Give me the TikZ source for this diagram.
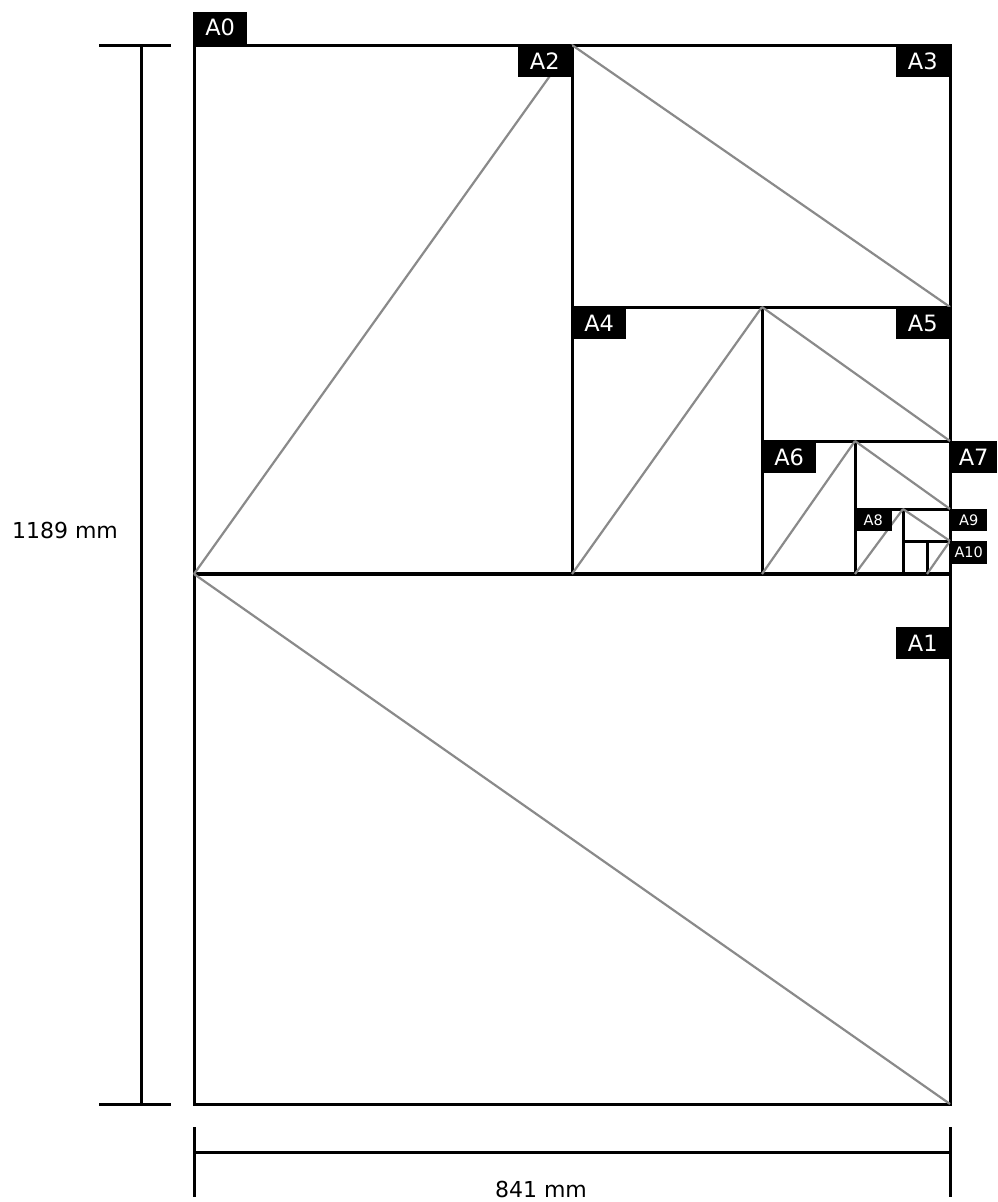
\documentclass[tikz,border=0pt]{standalone}
\usepackage{fontspec}
\setmainfont{DejaVu Sans}
\definecolor{diaggray}{HTML}{8A8A8A}
\begin{document}
\begin{tikzpicture}[x=1pt,y=-1pt,
  frame/.style={line width=3pt, black},
  midline/.style={line width=3.4pt, black},
  diag/.style={line width=2.2pt, diaggray},
  dimline/.style={line width=3pt, black},
  lab/.style={fill=black, text=white, font=\fontsize{22.5pt}{22.5pt}\selectfont, inner sep=0pt, minimum width=54pt, minimum height=32pt},
  smalllab/.style={fill=black, text=white, font=\fontsize{14.5pt}{14.5pt}\selectfont, inner sep=0pt, minimum width=37pt, minimum height=22pt},
  dimtext/.style={font=\fontsize{22pt}{22pt}\selectfont, text=black, inner sep=0pt}]
\useasboundingbox (0,0) rectangle (997,1202);
% key coordinates
\coordinate (TL) at (194,45);
\coordinate (TR) at (950,45);
\coordinate (BL) at (194,1104);
\coordinate (BR) at (950,1104);
\coordinate (ML) at (194,574);
\coordinate (MR) at (950,574);
\coordinate (X2T) at (572,45);
\coordinate (X2M) at (572,574);
\coordinate (Y3L) at (572,307);
\coordinate (Y3R) at (950,307);
\coordinate (X4T) at (762,307);
\coordinate (X4M) at (762,574);
\coordinate (Y6L) at (762,441);
\coordinate (Y6R) at (950,441);
\coordinate (X8T) at (855,441);
\coordinate (X8M) at (855,574);
\coordinate (Y9L) at (855,509);
\coordinate (Y9R) at (950,509);
\coordinate (X10T) at (903,509);
\coordinate (X10M) at (903,574);
\coordinate (Y10L) at (903,541);
\coordinate (Y10R) at (950,541);
\coordinate (X11T) at (927,541);
\coordinate (X11M) at (927,574);
% black frame lines
\draw[frame] (TL) rectangle (BR);
\draw[midline] (ML) -- (MR);
\draw[frame] (X2T) -- (X2M);
\draw[frame] (Y3L) -- (Y3R);
\draw[frame] (X4T) -- (X4M);
\draw[frame] (Y6L) -- (Y6R);
\draw[frame] (X8T) -- (X8M);
\draw[frame] (Y9L) -- (Y9R);
\draw[frame] (X10T) -- (X10M);
\draw[frame] (Y10L) -- (Y10R);
\draw[frame] (X11T) -- (X11M);
% gray diagonals
\draw[diag] (ML) -- (BR);
\draw[diag] (ML) -- (X2T);
\draw[diag] (X2T) -- (Y3R);
\draw[diag] (X2M) -- (X4T);
\draw[diag] (X4T) -- (Y6R);
\draw[diag] (X4M) -- (X8T);
\draw[diag] (X8T) -- (Y9R);
\draw[diag] (X8M) -- (X10T);
\draw[diag] (X10T) -- (Y10R);
\draw[diag] (X11M) -- (Y10R);
% dimension lines
\coordinate (VT) at (141,45);
\coordinate (VB) at (141,1104);
\coordinate (VT1) at (99,45);
\coordinate (VT2) at (171,45);
\coordinate (VB1) at (99,1104);
\coordinate (VB2) at (171,1104);
\draw[dimline] (VT) -- (VB);
\draw[dimline] (VT1) -- (VT2);
\draw[dimline] (VB1) -- (VB2);
\coordinate (HL) at (194,1152);
\coordinate (HR) at (950,1152);
\coordinate (HL1) at (194,1127);
\coordinate (HL2) at (194,1197);
\coordinate (HR1) at (950,1127);
\coordinate (HR2) at (950,1197);
\draw[dimline] (HL) -- (HR);
\draw[dimline] (HL1) -- (HL2);
\draw[dimline] (HR1) -- (HR2);
\node[dimtext] (hdim) at (65,530) {1189 mm};
\node[dimtext] (wdim) at (541,1189) {841 mm};
% labels
\node[lab, anchor=south west] (a0) at (193,44) {A0};
\node[lab, anchor=north east] (a2) at (572,45) {A2};
\node[lab, anchor=north east] (a3) at (950,45) {A3};
\node[lab, anchor=north west] (a4) at (572,307) {A4};
\node[lab, anchor=north east] (a5) at (950,307) {A5};
\node[lab, anchor=north west] (a6) at (762,441) {A6};
\node[lab, anchor=north west, minimum width=47pt] (a7) at (950,441) {A7};
\node[smalllab, anchor=north west, minimum width=38pt] (a8) at (854,509) {A8};
\node[smalllab, anchor=north west] (a9) at (950,509) {A9};
\node[smalllab, anchor=north west, minimum height=23pt] (a10) at (950,541) {A10};
\node[lab, anchor=north east] (a1) at (950,627) {A1};
\end{tikzpicture}
\end{document}
